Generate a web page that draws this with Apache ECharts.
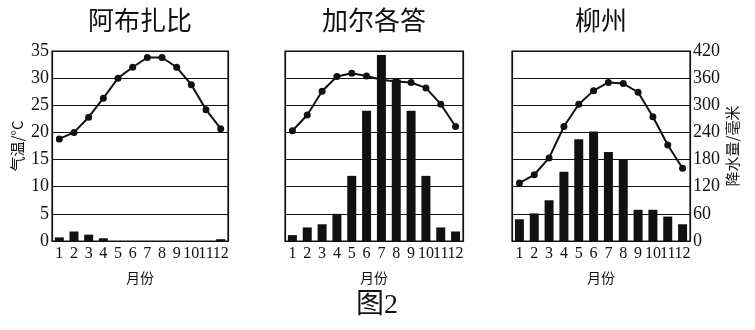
<!DOCTYPE html>
<html><head><meta charset="utf-8">
<script src="https://cdn.jsdelivr.net/npm/echarts@6/dist/echarts.min.js"></script>
<style>html,body{margin:0;padding:0;background:#fff}#c{width:755px;height:330px}</style>
</head><body><div id="c"></div>
<script>
const months = ['1','2','3','4','5','6','7','8','9','10','11','12'];
const cities = ['阿布扎比','加尔各答','柳州'];
const tempAbuDhabi = [18.8,20.0,22.8,26.3,30.0,32.0,33.8,33.8,32.0,28.8,24.2,20.7];
const precAbuDhabi = [8,21,14,6,0,0,0,0,0,0,0,4];
const tempKolkata = [20.3,23.2,27.6,30.3,30.9,30.4,29.7,29.4,29.2,28.2,25.2,21.1];
const precKolkata = [13,30,37,60,144,288,411,357,288,144,30,21];
const tempLiuzhou = [10.7,12.2,15.3,21.1,25.2,27.7,29.2,29.0,27.4,22.9,17.7,13.4];
const precLiuzhou = [48,61,90,153,225,242,197,181,69,69,54,37];
const tempTicks = [0,5,10,15,20,25,30,35];
const precTicks = [0,60,120,180,240,300,360,420];
const tempName = '气温/°C', precName = '降水量/毫米', xName = '月份', figName = '图2';

const serif = '"Liberation Serif","Times New Roman",serif';
const cjk = '"Noto Sans CJK SC","Noto Sans",sans-serif';
const temps = [tempAbuDhabi, tempKolkata, tempLiuzhou];
const precs = [precAbuDhabi, precKolkata, precLiuzhou];
const grids = [{left:52,top:51,width:176,height:190},{left:285,top:51,width:178,height:190},{left:512,top:51,width:178,height:190}];

const xAxis = [], yAxis = [], series = [], graphic = [];
grids.forEach((g,i)=>{
  g.show = true; g.borderColor = '#111'; g.borderWidth = 1.2; g.backgroundColor='transparent';
  xAxis.push({type:'category', gridIndex:i, data:months, boundaryGap:true,
    axisLine:{show:true,lineStyle:{color:'#111',width:1.2}}, axisTick:{show:false},
    axisLabel:{interval:0,color:'#111',fontFamily:serif,fontSize:16,margin:5},
    name:xName, nameLocation:'middle', nameGap:30,
    nameTextStyle:{fontFamily:cjk,fontSize:14,color:'#111'}});
  yAxis.push({type:'value', gridIndex:i, min:tempTicks[0], max:tempTicks[tempTicks.length-1], interval:5, position:'left',
    axisLine:{show:true,lineStyle:{color:'#111',width:1.2}}, axisTick:{show:false},
    splitLine:{show:true,lineStyle:{color:'#111',width:1.2}},
    axisLabel:{show:i===0,color:'#111',fontFamily:serif,fontSize:18,margin:3},
    name: i===0?tempName:'', nameLocation:'middle', nameRotate:90, nameGap:27,
    nameTextStyle:{fontFamily:cjk,fontSize:15,color:'#111'}});
  yAxis.push({type:'value', gridIndex:i, min:precTicks[0], max:precTicks[precTicks.length-1], interval:60, position:'right',
    axisLine:{show:true,lineStyle:{color:'#111',width:1.2}}, axisTick:{show:false}, splitLine:{show:false},
    axisLabel:{show:i===2,color:'#111',fontFamily:serif,fontSize:18,margin:3},
    name: i===2?precName:'', nameLocation:'middle', nameRotate:90, nameGap:35,
    nameTextStyle:{fontFamily:cjk,fontSize:15,color:'#111'}});
  series.push({type:'bar', xAxisIndex:i, yAxisIndex:2*i+1, data:precs[i], barWidth:9,
    itemStyle:{color:'#111'}, z:2, silent:true});
  series.push({type:'line', xAxisIndex:i, yAxisIndex:2*i, data:temps[i], symbol:'circle', symbolSize:7,
    lineStyle:{color:'#111',width:2}, itemStyle:{color:'#111'}, z:3, silent:true});
  graphic.push({type:'text', x:g.left+g.width/2, y:20, style:{text:cities[i], font:'26px '+cjk, fill:'#111', textAlign:'center', textVerticalAlign:'middle'}});
});
graphic.push({type:'text', x:377, y:306, style:{text:figName, font:'28px '+serif.replace('serif','"Noto Sans CJK SC",serif'), fill:'#111', textAlign:'center', textVerticalAlign:'middle'}});

const chart = echarts.init(document.getElementById('c'), null, {renderer:'canvas'});
chart.setOption({animation:false, backgroundColor:'#fff', grid:grids, xAxis, yAxis, series, graphic});
</script></body></html>
